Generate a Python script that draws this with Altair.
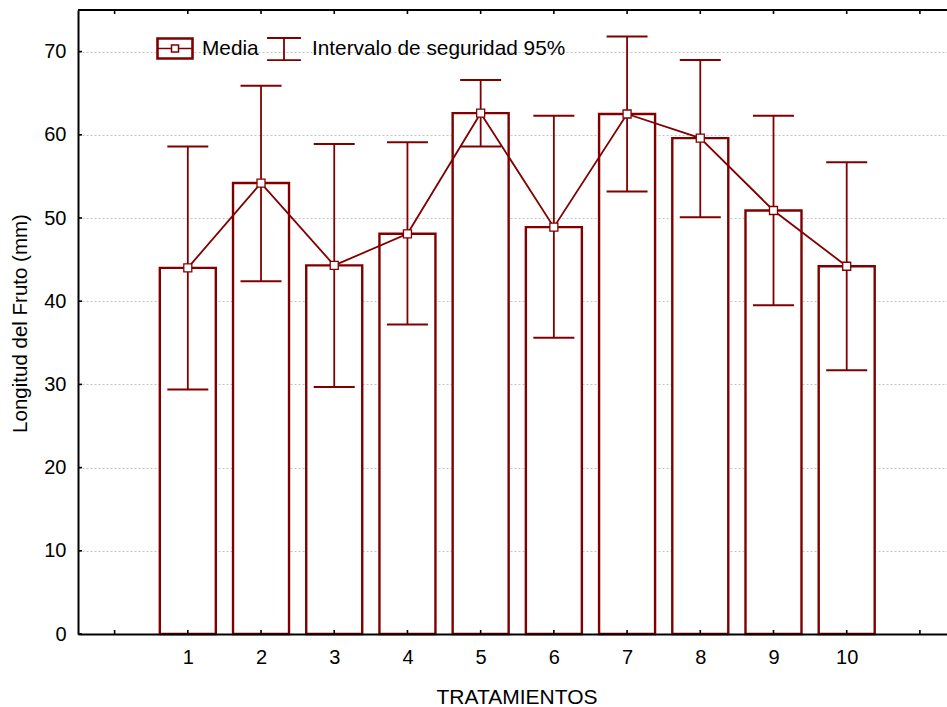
import altair as alt
import pandas as pd

# Tratamientos y longitud del fruto (mm): media e intervalo de seguridad del 95%
tratamientos = [1, 2, 3, 4, 5, 6, 7, 8, 9, 10]
medias = [44.0, 54.2, 44.3, 48.1, 62.6, 48.9, 62.5, 59.6, 50.9, 44.2]
limite_inf = [29.4, 42.4, 29.7, 37.2, 58.6, 35.6, 53.2, 50.1, 39.5, 31.7]
limite_sup = [58.6, 65.9, 58.9, 59.1, 66.6, 62.3, 71.8, 69.0, 62.3, 56.7]

ticks_x = list(range(0, 12))
ticks_y = [0, 10, 20, 30, 40, 50, 60, 70]
series_leyenda = ["Media", "Intervalo de seguridad 95%"]

ROJO = "#800000"
FUENTE = "Liberation Sans"
W, H = 869, 624

df = pd.DataFrame({
    "trat": tratamientos,
    "media": medias,
    "inf": limite_inf,
    "sup": limite_sup,
})

x_scale = alt.Scale(domain=[-0.5, 11.37], nice=False, zero=False, padding=0)
y_scale = alt.Scale(domain=[0, 75], nice=False)

x_axis = alt.Axis(
    values=ticks_x, format="d",
    labelExpr="datum.value >= 1 && datum.value <= 10 ? datum.label : ''",
    ticks=False, grid=False,
    domainColor="black", domainWidth=2,
    labelFont=FUENTE, labelFontSize=20, labelColor="black",
    labelPadding=13, labelFlush=False,
    title="TRATAMIENTOS", titleFont=FUENTE, titleFontSize=21,
    titleFontWeight="normal", titleColor="black",
    titleX=438.5, titleY=69, titleAlign="center", titleBaseline="alphabetic",
    zindex=1,
)
y_axis = alt.Axis(
    values=ticks_y,
    ticks=False, grid=True,
    gridColor="#c4c4c4", gridDash=[2, 2], gridWidth=1,
    domainColor="black", domainWidth=2,
    labelFont=FUENTE, labelFontSize=20, labelColor="black", labelPadding=12,
    title="Longitud del Fruto (mm)", titleFont=FUENTE, titleFontSize=20.5,
    titleFontWeight="normal", titleColor="black",
    titleX=-58, titleY=313, titleAngle=270, titleAlign="center",
    titleBaseline="middle",
)

base = alt.Chart(df)

barras = base.mark_bar(
    width=56, fill="white", stroke=ROJO, strokeWidth=2.4
).encode(
    x=alt.X("trat:Q", scale=x_scale, axis=x_axis),
    y=alt.Y("media:Q", scale=y_scale, axis=y_axis),
)

bigote = base.mark_rule(color=ROJO, strokeWidth=1.8).encode(
    x="trat:Q", y="inf:Q", y2="sup:Q"
)
tope_sup = base.mark_tick(
    orient="horizontal", size=41, thickness=2, color=ROJO, opacity=1
).encode(x="trat:Q", y="sup:Q")
tope_inf = base.mark_tick(
    orient="horizontal", size=41, thickness=2, color=ROJO, opacity=1
).encode(x="trat:Q", y="inf:Q")

linea = base.mark_line(color=ROJO, strokeWidth=1.8).encode(
    x="trat:Q", y="media:Q"
)
puntos = base.mark_point(
    shape="square", filled=True, fill="white", stroke=ROJO,
    strokeWidth=1.3, size=64, opacity=1
).encode(x="trat:Q", y="media:Q")

# Marcas internas de los ejes (hacia dentro del área de trazado)
df_tx = pd.DataFrame({"t": ticks_x})
df_ty = pd.DataFrame({"t": ticks_y})
marcas_abajo = alt.Chart(df_tx).mark_rule(color="black", strokeWidth=1.6).encode(
    x="t:Q", y=alt.value(H), y2=alt.value(H - 4)
)
marcas_arriba = alt.Chart(df_tx).mark_rule(color="black", strokeWidth=1.6).encode(
    x="t:Q", y=alt.value(0), y2=alt.value(4)
)
marcas_izq = alt.Chart(df_ty).mark_rule(color="black", strokeWidth=1.6).encode(
    y="t:Q", x=alt.value(0), x2=alt.value(4)
)
marco_sup = alt.Chart(pd.DataFrame({"k": [0]})).mark_rule(
    color="black", strokeWidth=2
).encode(x=alt.value(0), x2=alt.value(W), y=alt.value(0))

# Leyenda dibujada dentro del área de trazado
simbolo_media = "M-1,-0.571H1V0.571H-1Z"
linea_media = "M-1,0H-0.2M0.2,0H1"
cuadro_media = "M-0.2,-0.2H0.2V0.2H-0.2Z"
simbolo_ic = "M-0.97,-0.63H0.97M0,-0.63V0.63M-0.97,0.63H0.97"

uno = pd.DataFrame({"k": [0]})


def simbolo(path, cx, cy, sw):
    return alt.Chart(uno).mark_point(
        shape=path, size=1225, filled=True, fill="white", stroke=ROJO,
        strokeWidth=sw, opacity=1
    ).encode(x=alt.value(cx), y=alt.value(cy))


def etiqueta(texto, x0, cy):
    return alt.Chart(uno).mark_text(
        text=texto, align="left", baseline="middle", font=FUENTE,
        fontSize=20.8, color="black"
    ).encode(x=alt.value(x0), y=alt.value(cy))


leyenda = [
    simbolo(simbolo_media, 97, 38.5, 2.6),
    simbolo(linea_media, 97, 38.5, 1.5),
    simbolo(cuadro_media, 97, 38.5, 1.5),
    etiqueta(series_leyenda[0], 124, 38.5),
    simbolo(simbolo_ic, 206, 39, 1.8),
    etiqueta(series_leyenda[1], 234, 38.5),
]

chart = alt.layer(
    barras, bigote, tope_sup, tope_inf, linea, puntos,
    marcas_abajo, marcas_arriba, marcas_izq, marco_sup, *leyenda,
).properties(
    width=W, height=H,
    autosize=alt.AutoSizeParams(type="none"),
    padding={"left": 78, "top": 10, "right": 0, "bottom": 73},
    background="white",
).configure_view(stroke=None)

chart.save("out.html", embed_options={"renderer": "svg", "actions": False})
